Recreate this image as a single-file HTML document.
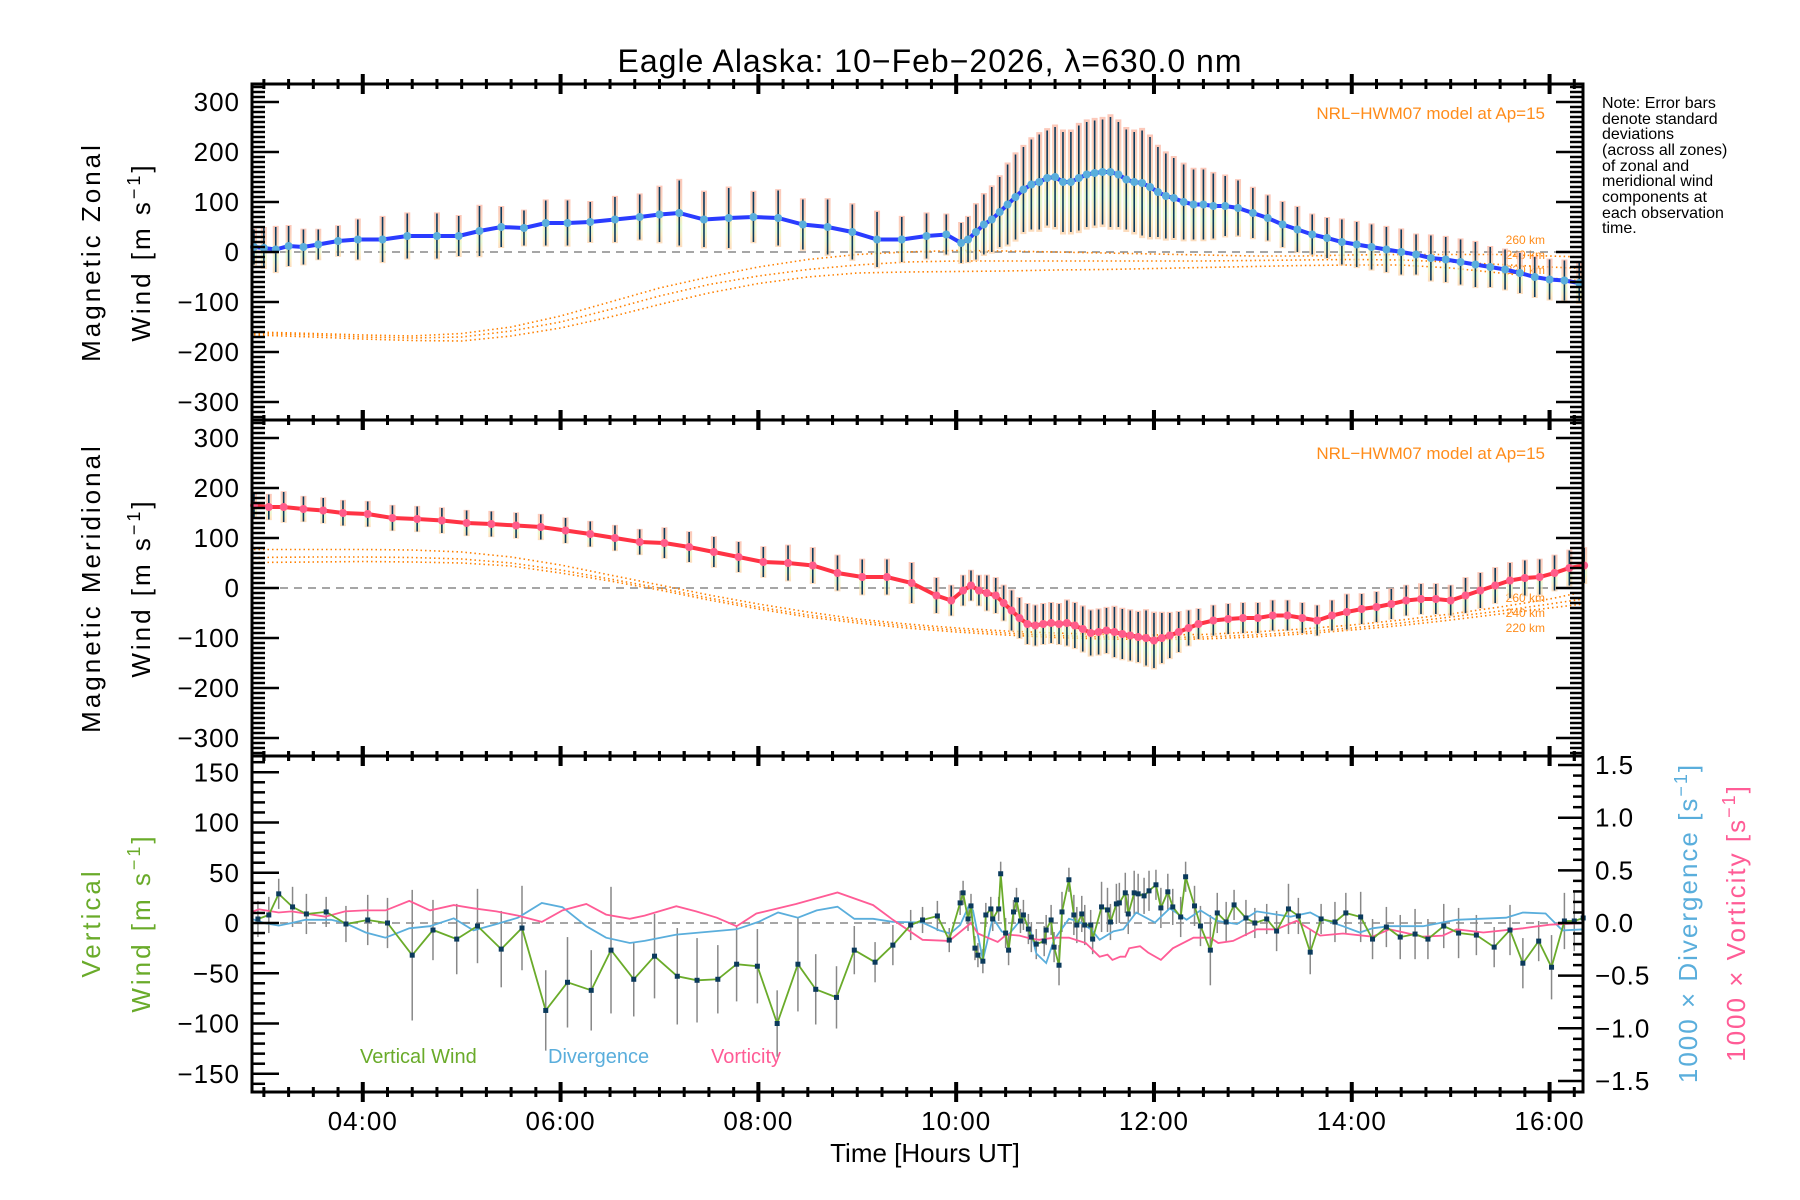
<!DOCTYPE html>
<html><head><meta charset="utf-8"><title>Eagle Alaska winds</title>
<style>
html,body{margin:0;padding:0;background:#fff;}
svg{display:block;font-family:"Liberation Sans",sans-serif;}
</style></head>
<body>
<svg id="chart" width="1800" height="1200" viewBox="0 0 1800 1200" xmlns="http://www.w3.org/2000/svg">
<defs>
<linearGradient id="pastel" x1="0" y1="0" x2="0" y2="1">
<stop offset="0" stop-color="#fbb6a3"/><stop offset="0.35" stop-color="#fbc9a8"/><stop offset="0.55" stop-color="#fde8a8"/><stop offset="0.7" stop-color="#dff6c4"/><stop offset="0.85" stop-color="#fde4ae"/><stop offset="1" stop-color="#fbd0a8"/>
</linearGradient>
</defs>
<text x="930" y="72" font-size="32" text-anchor="middle" letter-spacing="1">Eagle Alaska: 10−Feb−2026, λ=630.0 nm</text>
<g font-size="16">
<text x="1602" y="108">Note: Error bars</text><text x="1602" y="124">denote standard</text><text x="1602" y="139">deviations</text><text x="1602" y="155">(across all zones)</text><text x="1602" y="171">of zonal and</text><text x="1602" y="186">meridional wind</text><text x="1602" y="202">components at</text><text x="1602" y="218">each observation</text><text x="1602" y="233">time.</text>
</g>
<text font-size="26" letter-spacing="3" transform="rotate(-90 100 252)" x="100" y="252" text-anchor="middle">Magnetic  Zonal</text>
<text font-size="26" letter-spacing="3" transform="rotate(-90 150 252)" x="150" y="252" text-anchor="middle">Wind [m s<tspan dy="-10" font-size="18">−1</tspan><tspan dy="10">]</tspan></text>
<text font-size="26" letter-spacing="3" transform="rotate(-90 100 588)" x="100" y="588" text-anchor="middle">Magnetic  Meridional</text>
<text font-size="26" letter-spacing="3" transform="rotate(-90 150 588)" x="150" y="588" text-anchor="middle">Wind [m s<tspan dy="-10" font-size="18">−1</tspan><tspan dy="10">]</tspan></text>
<text font-size="26" letter-spacing="3" fill="#6aab2a" transform="rotate(-90 100 923)" x="100" y="923" text-anchor="middle">Vertical</text>
<text font-size="26" letter-spacing="3" fill="#6aab2a" transform="rotate(-90 150 923)" x="150" y="923" text-anchor="middle">Wind [m s<tspan dy="-10" font-size="18">−1</tspan><tspan dy="10">]</tspan></text>
<text font-size="26" letter-spacing="2" fill="#5aaedc" transform="rotate(-90 1697 923)" x="1697" y="923" text-anchor="middle">1000 × Divergence [s<tspan dy="-10" font-size="18">−1</tspan><tspan dy="10">]</tspan></text>
<text font-size="26" letter-spacing="2" fill="#ff5c96" transform="rotate(-90 1745 923)" x="1745" y="923" text-anchor="middle">1000 × Vorticity [s<tspan dy="-10" font-size="18">−1</tspan><tspan dy="10">]</tspan></text>
<text font-size="26" x="925" y="1162" text-anchor="middle">Time [Hours UT]</text>
<text font-size="17" fill="#ff8c1a" x="1545" y="119" text-anchor="end">NRL−HWM07 model at Ap=15</text>
<text font-size="17" fill="#ff8c1a" x="1545" y="459" text-anchor="end">NRL−HWM07 model at Ap=15</text>
<g font-size="12" fill="#ff8c1a" text-anchor="end"><text x="1545" y="244">260 km</text><text x="1545" y="259">240 km</text><text x="1545" y="274">220 km</text></g>
<g font-size="12" fill="#ff8c1a" text-anchor="end"><text x="1545" y="602">260 km</text><text x="1545" y="617">240 km</text><text x="1545" y="632">220 km</text></g>
<g font-size="20"><text x="360" y="1063" fill="#6aab2a">Vertical Wind</text><text x="548" y="1063" fill="#5aaedc">Divergence</text><text x="711" y="1063" fill="#ff5c96">Vorticity</text></g>
</svg>
<script>
// ---------- data ----------
const zonalHours=[2.9,3.0,3.12,3.25,3.4,3.55,3.75,3.95,4.2,4.45,4.75,4.97,5.18,5.4,5.63,5.85,6.07,6.3,6.55,6.8,7.0,7.2,7.45,7.7,7.95,8.2,8.45,8.7,8.95,9.2,9.45,9.7,9.9,10.05,10.12,10.2,10.28,10.36,10.44,10.52,10.6,10.68,10.76,10.84,10.92,11.0,11.08,11.16,11.24,11.32,11.4,11.48,11.56,11.64,11.72,11.8,11.88,11.96,12.04,12.12,12.2,12.3,12.4,12.5,12.6,12.72,12.85,13.0,13.15,13.3,13.45,13.6,13.75,13.9,14.05,14.2,14.35,14.5,14.65,14.8,14.95,15.1,15.25,15.4,15.55,15.7,15.85,16.0,16.15,16.3];
const zonalWind=[10,8,5,12,10,15,22,25,25,32,32,32,42,50,48,58,58,60,65,70,75,78,65,68,70,68,55,50,40,25,25,32,35,18,25,40,55,65,80,95,110,125,135,140,148,150,140,140,148,155,158,160,160,155,145,140,138,130,120,112,108,100,95,95,92,92,88,78,68,55,45,35,28,20,15,10,5,0,-5,-12,-15,-20,-25,-30,-35,-42,-50,-55,-57,-62];
const zonalErr=[35,40,45,40,35,30,30,40,45,45,45,40,50,40,35,45,45,40,45,45,55,65,55,60,50,55,50,55,55,55,45,45,40,40,45,55,60,65,70,80,85,85,90,95,95,100,100,100,105,105,105,105,110,105,100,100,105,100,90,85,80,75,70,70,65,60,55,50,45,45,45,40,40,45,45,45,45,45,40,45,45,45,45,40,40,40,40,40,40,40];
const merHours=[2.9,3.05,3.2,3.4,3.6,3.8,4.05,4.3,4.55,4.8,5.05,5.3,5.55,5.8,6.05,6.3,6.55,6.8,7.05,7.3,7.55,7.8,8.05,8.3,8.55,8.8,9.05,9.3,9.55,9.8,9.95,10.07,10.15,10.23,10.31,10.4,10.48,10.56,10.64,10.72,10.8,10.88,10.96,11.04,11.12,11.2,11.28,11.36,11.44,11.52,11.6,11.68,11.76,11.84,11.92,12.0,12.08,12.16,12.25,12.35,12.45,12.6,12.75,12.9,13.05,13.2,13.35,13.5,13.65,13.8,13.95,14.1,14.25,14.4,14.55,14.7,14.85,15.0,15.15,15.3,15.45,15.6,15.75,15.9,16.05,16.2,16.35];
const merWind=[165,162,162,158,155,150,148,140,138,135,130,128,125,122,115,108,100,92,90,82,72,62,52,50,45,30,22,22,10,-15,-25,-5,5,-5,-10,-15,-30,-45,-60,-72,-75,-72,-70,-72,-70,-75,-82,-90,-88,-85,-88,-92,-95,-98,-100,-105,-100,-95,-88,-80,-72,-65,-62,-60,-60,-55,-55,-60,-65,-55,-48,-42,-38,-32,-25,-22,-22,-25,-15,-5,5,15,20,22,30,40,45];
const merErr=[25,25,30,25,25,25,25,25,25,25,25,25,25,25,25,25,25,25,30,30,30,30,30,35,35,35,35,35,40,35,30,30,30,30,35,35,35,40,40,40,40,40,40,40,45,45,45,45,45,45,50,50,50,50,55,55,50,45,40,35,30,30,30,30,30,30,30,30,30,30,35,30,30,30,30,30,30,30,35,35,35,35,35,35,35,35,35];
const modelHours=[2.9,3.5,4.0,4.5,5.0,5.5,6.0,6.5,7.0,7.5,8.0,8.5,9.0,9.5,10.0,10.5,11.0,11.5,12.0,12.5,13.0,13.5,14.0,14.5,15.0,15.5,16.0,16.34];
const zonal260=[-160,-163,-166,-168,-163,-150,-128,-100,-72,-50,-30,-15,-5,0,3,2,0,-2,-4,-6,-8,-8,-6,-5,-5,-5,-8,-10];
const zonal240=[-163,-166,-170,-172,-170,-158,-140,-115,-88,-65,-48,-35,-26,-20,-18,-18,-18,-18,-18,-18,-17,-16,-15,-16,-20,-25,-30,-33];
const zonal220=[-166,-170,-174,-177,-178,-168,-152,-130,-105,-82,-63,-50,-42,-40,-39,-38,-36,-35,-33,-31,-29,-27,-26,-26,-32,-42,-52,-58];
const mer260=[77,77,77,76,72,62,46,26,6,-14,-32,-48,-62,-72,-80,-86,-90,-93,-94,-93,-88,-82,-74,-64,-52,-38,-22,-8];
const mer240=[61,62,62,61,58,50,36,18,0,-20,-38,-54,-66,-76,-84,-90,-95,-98,-99,-98,-94,-88,-80,-70,-58,-46,-32,-22];
const mer220=[51,52,53,52,50,44,30,14,-4,-24,-42,-58,-70,-80,-88,-94,-99,-102,-103,-102,-98,-92,-84,-75,-64,-52,-40,-32];
const vertHours=[2.94,3.05,3.15,3.29,3.43,3.63,3.83,4.05,4.25,4.5,4.71,4.95,5.16,5.4,5.61,5.85,6.07,6.31,6.51,6.74,6.95,7.18,7.38,7.59,7.78,7.99,8.19,8.4,8.58,8.79,8.97,9.18,9.36,9.54,9.66,9.81,9.93,10.04,10.07,10.12,10.15,10.19,10.22,10.27,10.3,10.35,10.37,10.43,10.45,10.5,10.53,10.58,10.61,10.65,10.68,10.73,10.76,10.81,10.89,10.91,10.96,10.99,11.04,11.07,11.14,11.19,11.22,11.27,11.3,11.36,11.38,11.47,11.53,11.56,11.62,11.65,11.71,11.74,11.8,11.84,11.9,11.95,12.02,12.07,12.14,12.19,12.27,12.32,12.41,12.47,12.57,12.64,12.73,12.81,12.93,13.02,13.14,13.24,13.36,13.46,13.58,13.69,13.83,13.94,14.09,14.21,14.35,14.49,14.64,14.77,14.93,15.08,15.26,15.44,15.6,15.73,15.89,16.02,16.15,16.25,16.34];
const vertWind=[4,8,29,16,9,11,-1,3,0,-32,-7,-16,-3,-26,-5,-87,-59,-67,-27,-56,-33,-53,-57,-56,-41,-43,-100,-41,-66,-74,-27,-39,-22,-2,3,7,-17,20,30,4,17,-25,-32,-38,8,14,4,14,49,-10,-27,11,23,2,8,-6,-14,-21,-18,-7,3,-24,-42,11,43,8,-2,9,-2,-2,-16,16,13,1,19,20,30,9,30,29,27,32,38,15,31,16,6,46,17,-3,-27,10,1,18,5,0,4,-8,14,7,-29,4,1,10,6,-16,-4,-14,-11,-16,-3,-10,-12,-24,-7,-40,-18,-44,2,2,5];
const vertErr=[18,18,15,20,20,15,18,25,25,65,30,35,37,38,42,40,45,40,63,37,42,48,42,34,37,37,33,47,35,31,24,20,20,15,13,15,12,12,12,12,12,12,12,12,12,12,12,12,12,15,15,12,12,12,15,15,15,15,15,15,15,15,20,20,12,20,18,18,20,15,15,25,22,18,20,20,20,20,22,20,18,20,15,20,18,18,20,15,20,20,35,20,20,15,18,15,15,20,25,18,22,15,20,20,25,20,20,22,25,20,22,25,20,20,25,25,20,32,28,30,12,10,10];
const divHours=[2.89,3.0,3.15,3.28,3.42,3.68,3.82,4.03,4.23,4.47,4.68,4.92,5.12,5.35,5.57,5.81,6.02,6.26,6.46,6.7,6.85,7.17,7.78,8.0,8.2,8.4,8.59,8.8,8.97,9.16,9.36,9.66,9.83,9.94,10.04,10.13,10.17,10.27,10.37,10.46,10.53,10.68,10.76,10.81,10.91,10.99,11.14,11.24,11.37,11.45,11.59,11.69,11.82,12.01,12.16,12.33,12.47,12.64,12.84,13.04,13.38,13.58,13.72,13.91,14.08,14.21,14.38,14.72,15.06,15.56,15.73,15.96,16.13,16.35];
const divergence=[0.035,0,-0.025,0,0.03,0.03,0,-0.09,-0.14,-0.05,-0.03,0.045,-0.07,-0.01,0.05,0.19,0.15,-0.03,-0.14,-0.19,-0.17,-0.11,-0.06,0.01,0.10,0.05,0.12,0.155,0.04,0.04,0.01,0.005,-0.07,-0.1,-0.02,0.165,0.12,-0.35,0.05,-0.08,-0.11,0.06,-0.1,-0.29,-0.38,-0.16,0.04,0.015,-0.066,-0.16,-0.08,-0.06,0.10,0.005,0.14,0.03,0.12,0.02,-0.01,0.11,0.06,0.10,0.03,-0.03,-0.09,-0.05,-0.03,-0.03,0.03,0.05,0.10,0.09,-0.07,-0.06];
const vortHours=[2.89,2.95,3.15,3.28,3.62,3.82,4.02,4.23,4.47,4.68,4.92,5.12,5.35,5.57,5.81,6.02,6.26,6.46,6.7,6.85,7.17,7.37,7.58,7.78,7.98,8.38,8.8,9.16,9.36,9.66,9.93,10.15,10.22,10.42,10.51,10.64,10.76,10.84,10.99,11.14,11.31,11.45,11.53,11.58,11.66,11.71,11.75,11.86,11.94,12.07,12.19,12.4,12.57,12.65,12.8,13.04,13.24,13.44,13.68,13.91,14.21,14.38,14.72,14.92,15.06,15.33,15.73,16.0,16.35];
const vorticity=[0.11,0.13,0.10,0.11,0.06,0.11,0.12,0.12,0.21,0.12,0.17,0.14,0.11,0.07,0.01,0.12,0.18,0.08,0.04,0.07,0.16,0.11,0.05,-0.03,0.09,0.18,0.29,0.17,0.03,-0.16,-0.17,0.0,-0.1,-0.18,-0.11,-0.12,-0.15,-0.16,-0.14,-0.14,-0.19,-0.32,-0.30,-0.35,-0.32,-0.32,-0.24,-0.22,-0.28,-0.35,-0.24,-0.14,-0.14,-0.19,-0.17,-0.06,-0.06,0.02,-0.12,-0.10,-0.13,-0.06,-0.13,-0.12,-0.06,-0.09,-0.05,-0.016,0.0];
const xTickHours=[4,6,8,10,12,14,16];
const xTickLabels=["04:00","06:00","08:00","10:00","12:00","14:00","16:00"];
const windTicks=[-300,-200,-100,0,100,200,300];
const vertTicks=[-150,-100,-50,0,50,100,150];
const rightTicks=[-1.5,-1.0,-0.5,0.0,0.5,1.0,1.5];

// ---------- scales ----------
const L=252,R=1583,H0=2.88,HPX=98.9;
const X=h=>L+(h-H0)*HPX;
const panels=[{top:84,bot:420,zero:252,k:0.5},{top:420,bot:756,zero:588,k:0.5},{top:756,bot:1092,zero:923,k:1.005}];
const Y=(p,v)=>panels[p].zero-v*panels[p].k;
const YR=r=>923-r*105.3;
const svg=document.getElementById('chart');
const NS='http://www.w3.org/2000/svg';
function add(tag,attrs,parent){const e=document.createElementNS(NS,tag);for(const k in attrs)e.setAttribute(k,attrs[k]);(parent||svg).appendChild(e);return e;}
const fmt=v=>(v<0?'−':'')+Math.abs(v);

function group(name){const g=add('g',{});return g;}

for(let p=0;p<3;p++){
  const z=add('line',{x1:L,x2:R,y1:panels[p].zero,y2:panels[p].zero,stroke:'#888',"stroke-width":1.5,"stroke-dasharray":"8,6"});
  
  
}

function modelLine(p,vals,name){
  const d=modelHours.map((h,i)=>(i?'L':'M')+X(h).toFixed(1)+','+Y(p,vals[i]).toFixed(1)).join(' ');
  const e=add('path',{d:d,fill:'none',stroke:'#ff8000',"stroke-width":1.6,"stroke-dasharray":"1.5,3"});
  
  
}
modelLine(0,zonal260,'zonal-model-260km');modelLine(0,zonal240,'zonal-model-240km');modelLine(0,zonal220,'zonal-model-220km');
modelLine(1,mer260,'meridional-model-260km');modelLine(1,mer240,'meridional-model-240km');modelLine(1,mer220,'meridional-model-220km');

function windPanel(p,hours,vals,errs,lineColor,markColor,name){
  const g=group(name+'-series');
  hours.forEach((h,i)=>{
    const b=add('rect',{x:X(h)-3,y:Y(p,vals[i]+errs[i]*1.05),width:6,height:errs[i]*2.1*panels[p].k,fill:'url(#pastel)',opacity:0.75},g);
    
    
  });
  hours.forEach((h,i)=>{
    const e=add('line',{x1:X(h),x2:X(h),y1:Y(p,vals[i]+errs[i]),y2:Y(p,vals[i]-errs[i]),stroke:'#0b3a5c',"stroke-width":1.6},g);
    
    
  });
  const d=hours.map((h,i)=>(i?'L':'M')+X(h).toFixed(1)+','+Y(p,vals[i]).toFixed(1)).join(' ');
  const ln=add('path',{d:d,fill:'none',stroke:lineColor,"stroke-width":4},g);
  
  
  hours.forEach((h,i)=>{
    const c=add('circle',{cx:X(h),cy:Y(p,vals[i]),r:4,fill:markColor},g);
    
    
  });
}
windPanel(0,zonalHours,zonalWind,zonalErr,'#2a3cff','#5aaedc','zonal-wind');
windPanel(1,merHours,merWind,merErr,'#ff3344','#ff5c8a','meridional-wind');

const vg=group('vertical-wind-series');
vertHours.forEach((h,i)=>{
  const e=add('line',{x1:X(h),x2:X(h),y1:Y(2,vertWind[i]+vertErr[i]),y2:Y(2,vertWind[i]-vertErr[i]),stroke:'#888',"stroke-width":1.5},vg);
  
  
});
function polyPath(hours,vals,yf){return hours.map((h,i)=>(i?'L':'M')+X(h).toFixed(1)+','+yf(vals[i]).toFixed(1)).join(' ');}
const dv=add('path',{d:polyPath(divHours,divergence,YR),fill:'none',stroke:'#5aaedc',"stroke-width":1.8});


const vo=add('path',{d:polyPath(vortHours,vorticity,YR),fill:'none',stroke:'#ff5c96',"stroke-width":1.8});


const vl=add('path',{d:polyPath(vertHours,vertWind,v=>Y(2,v)),fill:'none',stroke:'#6aab2a',"stroke-width":1.8});


vertHours.forEach((h,i)=>{
  const m=add('rect',{x:X(h)-2.5,y:Y(2,vertWind[i])-2.5,width:5,height:5,fill:'#0b3a5c'});
  
  
});

const ax=group('axes');
panels.forEach((pn,p)=>{
  const f=add('rect',{x:L,y:pn.top,width:R-L,height:pn.bot-pn.top,fill:'none',stroke:'#000',"stroke-width":3},ax);
  
  
  for(let q=12;q<=65;q++){const h=q/4;if(h<H0||h>16.34)continue;const major=(q%8===0);const len=major?10:5;
    [pn.top,pn.bot].forEach(yy=>{const t=add('line',{x1:X(h),x2:X(h),y1:yy-len,y2:yy+len,stroke:'#000',"stroke-width":major?4:3},ax);
      
      });}
  const step=10, lim=p<2?330:160, majorStep=p<2?100:50;
  for(let v=-lim;v<=lim;v+=step){const yy=Y(p,v);if(yy<pn.top+2||yy>pn.bot-2)continue;const major=(v%majorStep===0);const len=major?27:13;
    const t=add('line',{x1:L,x2:L+len,y1:yy,y2:yy,stroke:'#000',"stroke-width":2.5},ax);
    
    
    if(p<2){const t2=add('line',{x1:R-len,x2:R,y1:yy,y2:yy,stroke:'#000',"stroke-width":2.5},ax);
      
      }
  }
  const ticks=p<2?windTicks:vertTicks;
  ticks.forEach(v=>{const tx=add('text',{x:240,y:Y(p,v)+9,"font-size":26,"text-anchor":"end","letter-spacing":1},ax);tx.textContent=fmt(v);
    
    });
});
for(let q=-15;q<=15;q++){const r=q/10;const yy=YR(r);const major=(q%5===0);const len=major?25:10;
  const t=add('line',{x1:R-len,x2:R,y1:yy,y2:yy,stroke:'#000',"stroke-width":2.5},ax);
  
  }
rightTicks.forEach(r=>{const tx=add('text',{x:1595,y:YR(r)+9,"font-size":26,"letter-spacing":1},ax);tx.textContent=(r<0?'−':'')+Math.abs(r).toFixed(1);
  
  });
xTickHours.forEach((h,i)=>{const tx=add('text',{x:X(h),y:1130,"font-size":26,"text-anchor":"middle","letter-spacing":1},ax);tx.textContent=xTickLabels[i];
  
  });
</script>
</body></html>
